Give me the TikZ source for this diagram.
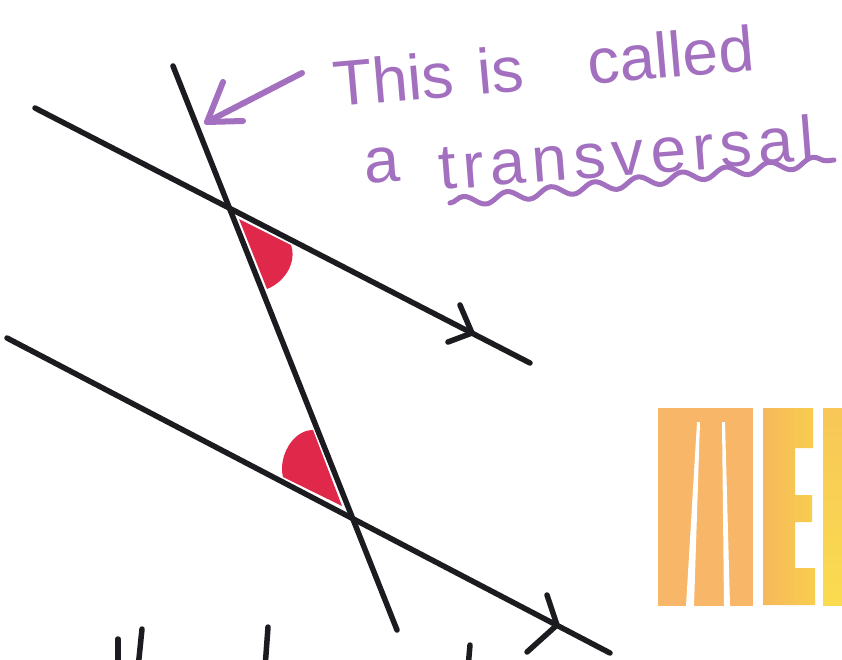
\documentclass[tikz,border=0pt]{standalone}
\usepackage{fontspec}
\setmainfont{Liberation Sans}
\usetikzlibrary{decorations.pathmorphing}
\definecolor{ink}{RGB}{28,28,32}
\definecolor{marker}{RGB}{163,112,192}
\definecolor{redmark}{RGB}{224,40,74}
\definecolor{orM}{RGB}{247,182,104}
\definecolor{orE}{RGB}{246,184,92}
\definecolor{yelE}{RGB}{248,206,78}
\definecolor{yelN}{RGB}{250,220,80}
\tikzset{
  blackline/.style={draw=ink, line width=5.5pt, line cap=round},
  penline/.style={draw=marker, line width=6pt, line cap=round, line join=round},
  hand/.style={text=marker, font=\fontsize{64}{72}\selectfont, inner sep=0pt, anchor=base west},
  redfill/.style={fill=redmark, draw=none}
}
\begin{document}
\begin{tikzpicture}[x=1pt,y=-1pt]
\path[use as bounding box, fill=white] (0,0) rectangle (842,659);
\clip (0,0) rectangle (842,659);

% coordinates
\coordinate (tTop) at (173,66);
\coordinate (tBot) at (397,630);
\coordinate (uA) at (35,108);
\coordinate (uB) at (530,363);
\coordinate (lA) at (7,338);
\coordinate (lB) at (610,653);

% red angle marks
\path[redfill] (239,219) -- (267,289) .. controls (285,282) and (297,262) .. (291,245) -- cycle;
\path[redfill] (313,430) -- (342,506) -- (283,477) .. controls (278,458) and (292,430) .. (313,430) -- cycle;

% black lines
\draw[blackline] (tTop) -- (tBot);
\draw[blackline] (uA) -- (uB);
\draw[blackline] (lA) -- (lB);

% chevrons
\coordinate (c1) at (472,333);
\coordinate (c1a) at (460,305);
\coordinate (c1b) at (448,342);
\draw[blackline] (c1a) -- (c1) -- (c1b);
\coordinate (c2) at (557,625);
\coordinate (c2a) at (547,595);
\coordinate (c2b) at (527,652);
\draw[blackline] (c2a) -- (c2) -- (c2b);

% partial strokes at bottom
\coordinate (s1a) at (118,639); \coordinate (s1b) at (118,668);
\coordinate (s2a) at (142,629); \coordinate (s2b) at (138,668);
\coordinate (s3a) at (268,627); \coordinate (s3b) at (265,668);
\coordinate (s4a) at (470,645); \coordinate (s4b) at (468,668);
\draw[blackline] (s1a) -- (s1b);
\draw[blackline] (s2a) -- (s2b);
\draw[blackline] (s3a) -- (s3b);
\draw[blackline] (s4a) -- (s4b);

% purple arrow
\coordinate (pa) at (302,73);
\coordinate (ptip) at (207,122);
\coordinate (ph1) at (223,82);
\coordinate (ph2) at (243,121);
\draw[penline] (pa) -- (ptip);
\draw[penline] (ph1) -- (ptip) -- (ph2);

% handwritten text
\node[hand, rotate=5] (line1) at (335,107) {This\hspace{24pt}is\hspace{64pt}called};
\node[hand, rotate=4] (w4) at (365,184) {a};
\node[hand, rotate=4.5, font=\fontsize{64}{72}\selectfont\addfontfeatures{LetterSpace=10}] (w5) at (440,190) {transversal};

% wavy underline
\coordinate (ul1) at (450,203);
\coordinate (ul2) at (834,160);
\draw[penline, line width=5pt, decorate, decoration={snake, segment length=44pt, amplitude=5pt}] (ul1) -- (ul2);

% orange letters
\fill[orM] (658,408) rectangle (753,606);
\fill[white] (697,422) -- (700,422) -- (694,606) -- (686,606) -- cycle;
\fill[white] (722,422) -- (725,422) -- (730,606) -- (724,606) -- cycle;
\shade[left color=orE, right color=yelE]
  (763,408) -- (813,408) -- (813,448) -- (795,448) -- (795,495) -- (812,495)
  -- (812,522) -- (795,522) -- (795,568) -- (815,568) -- (815,605) -- (763,605) -- cycle;
\shade[top color=orE!60!yelN, bottom color=yelN] (823,408) rectangle (842,605);
\end{tikzpicture}
\end{document}
